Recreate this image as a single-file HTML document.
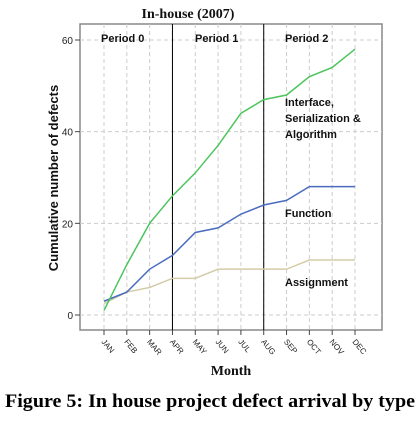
<!DOCTYPE html>
<html><head><meta charset="utf-8"><style>
body{margin:0;background:#fff;width:420px;height:421px;overflow:hidden}
svg text{font-family:"Liberation Sans",sans-serif}
.serif{font-family:"Liberation Serif",serif!important;font-weight:bold}
</style></head><body>
<svg id="chart" width="420" height="421" viewBox="0 0 420 421" xmlns="http://www.w3.org/2000/svg">
<g id="g"></g>
</svg>
<script>
const months=["JAN","FEB","MAR","APR","MAY","JUN","JUL","AUG","SEP","OCT","NOV","DEC"];
const interfaceVals=[1,11,20,26,31,37,44,47,48,52,54,58];
const functionVals=[3,5,10,13,18,19,22,24,25,28,28,28];
const assignmentVals=[2.5,5,6,8,8,10,10,10,10,12,12,12];
const yTicks=[0,20,40,60];
const periodBounds=[3,7];
const periodLabels=["Period 0","Period 1","Period 2"];
const NS="http://www.w3.org/2000/svg";
const g=document.getElementById('g');
const X0=80,X1=382,Y0=24,Y1=330;
const xs=i=>104+i*(355-104)/11;
const ys=v=>315-v*(315-40)/60;
function el(t,a,txt){const e=document.createElementNS(NS,t);for(const k in a)e.setAttribute(k,a[k]);if(txt!==undefined)e.textContent=txt;g.appendChild(e);return e;}
let r=el('rect',{x:X0,y:Y0,width:X1-X0,height:Y1-Y0,fill:'#fff',stroke:'#888','stroke-width':1.5});


yTicks.forEach(v=>{
 let l=el('line',{x1:X0,x2:X1,y1:ys(v),y2:ys(v),stroke:'#ccc','stroke-dasharray':'4,3'});
 
 
 el('line',{x1:X0-5,x2:X0,y1:ys(v),y2:ys(v),stroke:'#444'});
 let t=el('text',{x:X0-7,y:ys(v)+4,'text-anchor':'end','font-size':10,fill:'#222'},v);
 
 
});
months.forEach((m,i)=>{
 let l=el('line',{x1:xs(i),x2:xs(i),y1:Y0,y2:Y1,stroke:'#ccc','stroke-dasharray':'4,3'});
 
 
 el('line',{x1:xs(i),x2:xs(i),y1:Y1,y2:Y1+5,stroke:'#444'});
 let t=el('text',{x:xs(i)-3,y:Y1+12,'font-size':8,fill:'#222',transform:`rotate(50 ${xs(i)-3} ${Y1+12})`},m);
 
 
});
periodBounds.forEach(b=>{
 let l=el('line',{x1:xs(b),x2:xs(b),y1:Y0,y2:Y1,stroke:'#000','stroke-width':1});
 
 
});
const plx=[101,195,285];
periodLabels.forEach((p,i)=>{
 let t=el('text',{x:plx[i],y:42,'font-size':11,'font-weight':'bold',fill:'#111'},p);
 
 
});
function series(vals,color,name){
 let d=vals.map((v,i)=>(i?'L':'M')+xs(i)+','+ys(v)).join('');
 let p=el('path',{d:d,fill:'none',stroke:color,'stroke-width':1.5});
 
 
}
series(assignmentVals,'#d4cca8','assignment-line');
series(functionVals,'#4a6cc0','function-line');
series(interfaceVals,'#4cc55c','interface-line');
[["Interface,",106],["Serialization &",122],["Algorithm",138]].forEach(a=>{
 let t=el('text',{x:285,y:a[1],'font-size':11,'font-weight':'bold',fill:'#111'},a[0]);
 
 
});
let t1=el('text',{x:285,y:217,'font-size':11,'font-weight':'bold',fill:'#111'},'Function');


let t2=el('text',{x:285,y:286,'font-size':11,'font-weight':'bold',fill:'#111'},'Assignment');


let yt=el('text',{x:58,y:178,'font-size':13,'font-weight':'bold',fill:'#111','text-anchor':'middle',transform:'rotate(-90 58 178)'},'Cumulative number of defects');


let xt=el('text',{x:231,y:375,'font-size':14,'text-anchor':'middle',fill:'#111',class:'serif'},'Month');


let ct=el('text',{x:188,y:18,'font-size':14,'text-anchor':'middle',fill:'#111',class:'serif'},'In-house (2007)');


let cap=el('text',{x:5,y:407,'font-size':19,fill:'#000',class:'serif',textLength:410,lengthAdjust:'spacingAndGlyphs'},'Figure 5: In house project defect arrival by type');


</script>
</body></html>
